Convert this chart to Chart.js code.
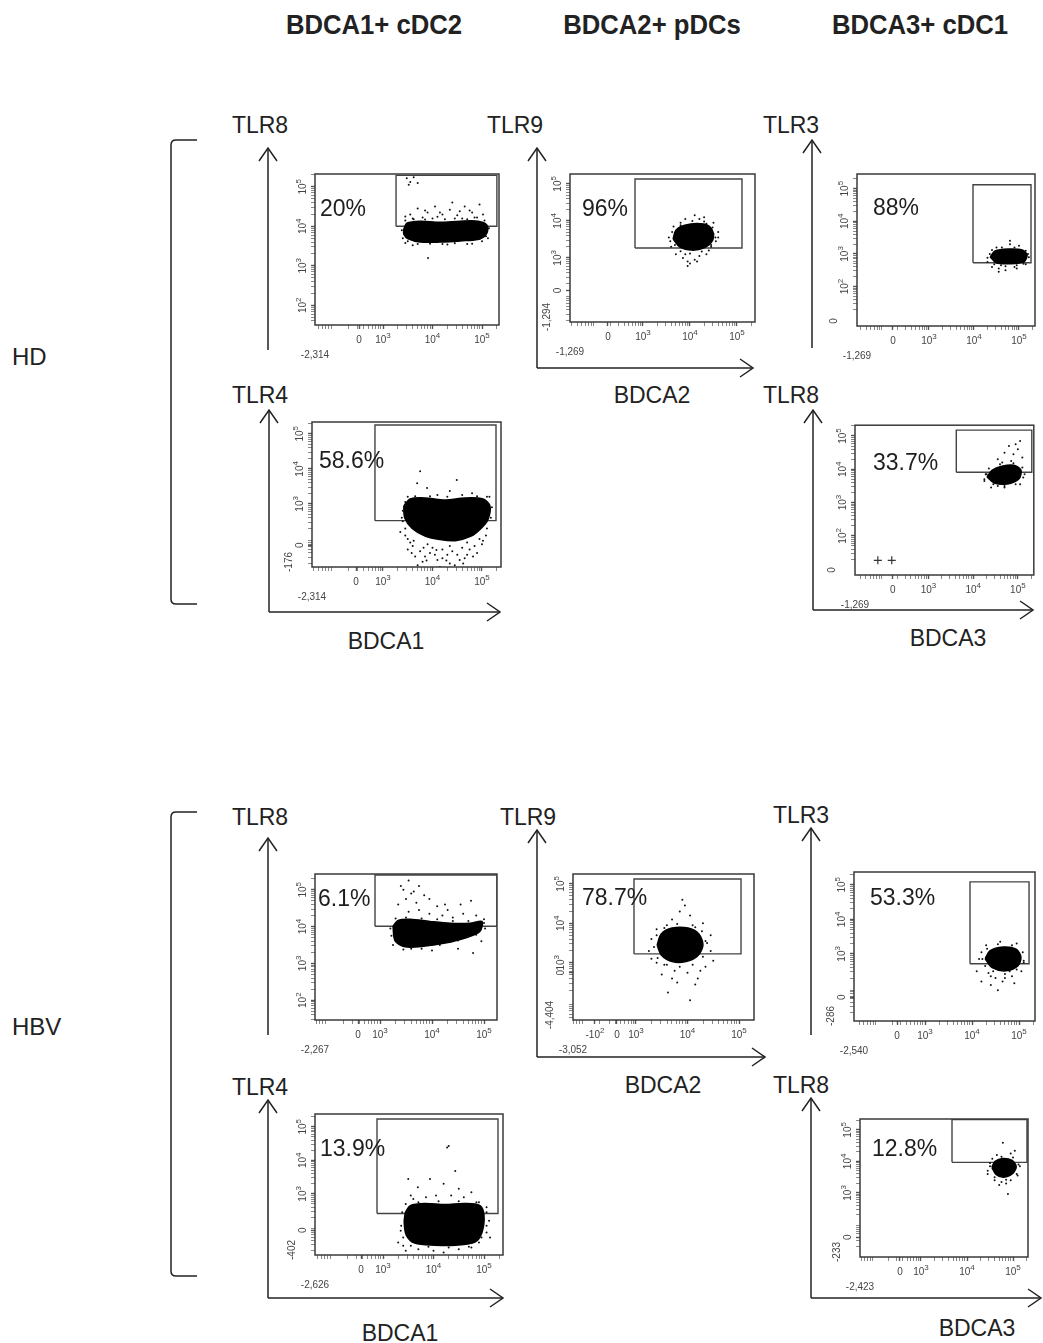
<!DOCTYPE html>
<html>
<head>
<meta charset="utf-8">
<script src="https://cdn.jsdelivr.net/npm/chart.js@4.4.1/dist/chart.umd.min.js"></script>
<style>
  body { margin:0; background:#fff; width:1043px; height:1343px; position:relative; overflow:hidden;
         font-family:"Liberation Sans", Arial, sans-serif; color:#222; }
  .t { position:absolute; white-space:nowrap; transform:translate(-50%,-50%); line-height:1; }
  .h { font-weight:bold; font-size:27px; transform:translate(-50%,-50%) scaleX(0.95); }
  .ax { font-size:23px; }
  .row { font-size:24px; transform:translate(0,-50%); }
  canvas { position:absolute; }
  svg { position:absolute; left:0; top:0; }
</style>
</head>
<body>
<svg id="deco" width="1043" height="1343"></svg>
<script>
const FONT = '"Liberation Sans", Arial, sans-serif';

// display units on every axis: 3 = 10^3, 4 = 10^4, 5 = 10^5 (lower part is the linear/negative zone)
const columnTitles = ['BDCA1+ cDC2', 'BDCA2+ pDCs', 'BDCA3+ cDC1'];
const groups = ['HD', 'HBV'];
// panels: HD A-E, HBV F-J
const yTitles = ['TLR8', 'TLR9', 'TLR3', 'TLR4', 'TLR8', 'TLR8', 'TLR9', 'TLR3', 'TLR4', 'TLR8'];
const xTitles = ['', 'BDCA2', '', 'BDCA1', 'BDCA3', '', 'BDCA2', '', 'BDCA1', 'BDCA3'];
const gatePercents = ['20%', '96%', '88%', '58.6%', '33.7%', '6.1%', '78.7%', '53.3%', '13.9%', '12.8%'];

const xRanges = [[1.626, 5.343], [1.447, 5.383], [1.40, 5.356], [1.566, 5.384], [1.356, 5.356],
                 [1.75, 5.25], [1.777, 5.291], [1.489, 5.34], [1.653, 5.376], [1.674, 5.326]];
const yRanges = [[1.5, 5.325], [1.267, 5.267], [0.79, 5.45], [1.197, 5.338], [0.824, 5.324],
                 [1.461, 5.429], [1.55, 5.25], [1.057, 5.371], [1.176, 5.382], [0.969, 5.344]];

const xTickLabels = [
  [[2.515, '0'], [3, '10^3'], [4, '10^4'], [5, '10^5']],
  [[2.255, '0'], [3, '10^3'], [4, '10^4'], [5, '10^5']],
  [[2.2, '0'], [3, '10^3'], [4, '10^4'], [5, '10^5']],
  [[2.455, '0'], [3, '10^3'], [4, '10^4'], [5, '10^5']],
  [[2.2, '0'], [3, '10^3'], [4, '10^4'], [5, '10^5']],
  [[2.577, '0'], [3, '10^3'], [4, '10^4'], [5, '10^5']],
  [[2.204, '-10^2'], [2.631, '0'], [3, '10^3'], [4, '10^4'], [5, '10^5']],
  [[2.404, '0'], [3, '10^3'], [4, '10^4'], [5, '10^5']],
  [[2.564, '0'], [3, '10^3'], [4, '10^4'], [5, '10^5']],
  [[2.543, '0'], [3, '10^3'], [4, '10^4'], [5, '10^5']]
];
const yTickLabels = [
  [[2, '10^2'], [3, '10^3'], [4, '10^4'], [5, '10^5']],
  [[2.12, '0'], [3, '10^3'], [4, '10^4'], [5, '10^5']],
  [[2, '10^2'], [3, '10^3'], [4, '10^4'], [5, '10^5']],
  [[1.817, '0'], [3, '10^3'], [4, '10^4'], [5, '10^5']],
  [[2, '10^2'], [3, '10^3'], [4, '10^4'], [5, '10^5']],
  [[2, '10^2'], [3, '10^3'], [4, '10^4'], [5, '10^5']],
  [[2.75, '0'], [3, '10^3'], [4, '10^4'], [5, '10^5']],
  [[1.743, '0'], [3, '10^3'], [4, '10^4'], [5, '10^5']],
  [[1.912, '0'], [3, '10^3'], [4, '10^4'], [5, '10^5']],
  [[1.594, '0'], [3, '10^3'], [4, '10^4'], [5, '10^5']]
];
const xMinLabels = ['-2,314', '-1,269', '-1,269', '-2,314', '-1,269', '-2,267', '-3,052', '-2,540', '-2,626', '-2,423'];
const yMinLabels = ['', '-1,294', '0', '-176', '0', '', '-4,404', '-286', '-402', '-233'];

// gates: [x0, x1, y0, y1]
const gates = [[3.263, 5.30, 4.0, 5.29], [2.83, 5.106, 3.267, 5.133], [3.978, 5.267, 2.727, 5.12],
               [2.838, 5.283, 2.521, 5.254], [3.622, 5.311, 3.912, 5.176], [2.904, 5.25, 4.008, 5.40],
               [2.961, 5.039, 3.225, 5.125], [3.957, 5.213, 2.714, 5.086], [2.881, 5.277, 2.412, 5.235],
               [3.674, 5.304, 3.969, 5.33]];

// dense cores of each population (outline)
const cloudA = [[3.42,3.93],[3.48,4.08],[3.75,4.13],[4.15,4.10],[4.56,4.13],[4.92,4.13],[5.10,4.03],[5.10,3.83],[4.96,3.68],[4.56,3.63],[4.15,3.60],[3.75,3.60],[3.51,3.68],[3.42,3.80]];
const cloudB = [[3.64,3.51],[3.70,3.75],[3.89,3.88],[4.15,3.93],[4.38,3.88],[4.49,3.69],[4.47,3.45],[4.30,3.27],[4.04,3.21],[3.79,3.29]];
const cloudC = [[4.36,2.91],[4.47,3.09],[4.76,3.15],[5.07,3.12],[5.18,2.97],[5.11,2.76],[4.80,2.70],[4.49,2.73]];
const cloudD = [[3.42,2.94],[3.55,3.14],[3.85,3.17],[4.25,3.11],[4.66,3.17],[5.02,3.14],[5.16,2.94],[5.12,2.55],[4.98,2.30],[4.78,2.08],[4.46,1.95],[4.15,1.98],[3.85,2.08],[3.59,2.30],[3.44,2.60]];
const cloudE = [[4.31,3.77],[4.42,3.97],[4.64,4.09],[4.91,4.12],[5.07,3.97],[5.02,3.71],[4.76,3.56],[4.47,3.59]];
const cloudF = [[3.25,4.01],[3.35,4.17],[3.58,4.20],[3.96,4.14],[4.35,4.09],[4.73,4.09],[4.96,4.14],[4.92,3.87],[4.64,3.69],[4.25,3.55],[3.87,3.47],[3.48,3.45],[3.29,3.61]];
const cloudG = [[3.41,3.45],[3.49,3.73],[3.70,3.88],[4.01,3.88],[4.22,3.73],[4.30,3.45],[4.20,3.18],[3.97,3.03],[3.70,3.03],[3.49,3.20]];
const cloudH = [[4.28,2.86],[4.38,3.09],[4.66,3.20],[4.94,3.14],[5.04,2.91],[4.98,2.66],[4.72,2.51],[4.43,2.60]];
const cloudI = [[3.44,2.44],[3.54,2.65],[3.83,2.71],[4.23,2.68],[4.62,2.71],[4.92,2.65],[5.00,2.35],[4.96,1.85],[4.82,1.56],[4.43,1.47],[4.03,1.47],[3.63,1.53],[3.46,1.77],[3.42,2.15]];
const cloudJ = [[4.54,3.81],[4.61,4.00],[4.78,4.09],[4.98,4.03],[5.07,3.84],[5.00,3.63],[4.80,3.50],[4.63,3.59]];

// sparse events around the cores
const outA = [[3.48,5.22],[3.55,5.12],[3.62,5.24],[3.70,5.10],[3.52,5.05],[3.55,4.30],[3.70,4.45],[3.90,4.35],[4.05,4.50],[4.20,4.30],[4.35,4.42],[4.50,4.28],[4.65,4.50],[4.80,4.35],[4.95,4.55],[5.02,4.30],[3.80,4.22],[4.10,4.24],[4.60,4.20],[4.85,4.22],[3.62,4.18],[4.40,4.60],[3.91,3.20],[3.60,3.52],[4.30,3.54],[4.80,3.56],[3.45,3.58],[5.08,3.75],
  [3.40,3.70],[3.38,3.90],[3.45,4.15],[3.60,4.20],[3.85,4.17],[4.00,4.20],[4.25,4.18],[4.45,4.20],[4.70,4.18],[4.90,4.22],[5.05,4.15],[5.14,3.95],[5.12,3.70],[5.00,3.62],[4.70,3.55],[4.45,3.57],[4.20,3.55],[3.95,3.56],[3.70,3.55],[3.50,3.62],[4.15,4.35],[3.85,4.40],[4.75,4.40],[4.55,4.38],[3.45,4.25]];
const outB = [[3.60,3.30],[3.70,3.10],[3.85,3.00],[4.00,2.85],[4.20,3.05],[4.40,3.20],[4.55,3.45],[4.60,3.70],[4.50,3.95],[4.30,4.10],[4.10,4.15],[3.90,4.05],[3.65,3.85],[3.55,3.55],[3.95,2.78],[4.10,2.95],[3.75,3.35],[4.45,3.35],[4.35,3.92],[3.80,3.95],
  [3.58,3.45],[3.62,3.70],[3.80,3.88],[4.05,4.00],[4.30,3.98],[4.48,3.82],[4.54,3.55],[4.45,3.30],[4.25,3.17],[4.00,3.12],[3.80,3.18],[3.68,3.35],[4.15,2.90],[3.90,3.10],[4.60,3.55],[4.20,4.05],[3.72,3.62],[3.95,2.90],[4.35,3.10],[4.50,3.65]];
const outC = [[4.30,2.75],[4.40,2.60],[4.55,2.55],[4.70,2.50],[4.90,2.60],[5.10,2.70],[5.20,3.00],[5.00,3.25],[4.80,3.30],[4.50,3.20],[4.35,3.00],[4.60,2.65],[4.95,2.55],
  [4.30,2.88],[4.40,3.12],[4.62,3.20],[4.90,3.20],[5.15,3.10],[5.22,2.90],[5.15,2.68],[4.95,2.65],[4.70,2.62],[4.45,2.68],[4.80,3.40],[4.55,2.45]];
const outD = [[3.50,1.70],[3.65,1.50],[3.80,1.35],[3.95,1.60],[4.10,1.40],[4.20,1.70],[4.35,1.30],[4.50,1.55],[4.65,1.45],[4.75,1.70],[4.90,1.60],[5.00,1.85],[5.08,2.10],[3.45,2.10],[3.40,2.50],[3.55,1.90],[4.00,1.75],[4.30,1.55],[4.60,1.75],[4.45,1.25],[3.70,1.25],[4.15,1.20],[3.90,1.85],[3.75,3.93],[4.49,3.68],[3.89,3.45],[3.69,3.59],[4.35,3.37],[4.80,3.30],[5.10,3.20],[3.50,3.20],[4.10,3.25],
  [3.40,2.80],[3.38,2.60],[3.45,2.30],[3.50,2.00],[3.60,1.80],[3.75,1.65],[3.85,1.50],[4.05,1.55],[4.20,1.45],[4.40,1.65],[4.55,1.40],[4.70,1.55],[4.85,1.80],[4.95,2.00],[5.10,2.30],[5.18,2.60],[5.20,2.90],[5.15,3.20],[4.90,3.22],[4.60,3.25],[4.30,3.20],[3.95,3.22],[3.65,3.22],[3.45,3.05],[3.58,1.60],[3.88,1.38],[4.28,1.38],[4.62,1.30],[4.82,1.50],[5.02,1.95],[3.35,2.20],[3.62,1.95],[3.82,1.75],[4.08,1.68],[4.35,1.80],[4.70,1.90]];
const outE = [[4.55,4.30],[4.70,4.50],[4.80,4.70],[4.90,4.45],[5.00,4.60],[4.85,4.25],[5.10,4.35],[4.65,4.20],[4.95,4.75],[4.30,3.85],[4.25,3.70],[4.40,3.45],[4.70,3.45],[5.05,3.55],[5.15,3.85],[4.55,3.50],
  [4.28,3.85],[4.35,4.02],[4.60,4.15],[4.90,4.18],[5.10,4.05],[5.12,3.75],[4.95,3.55],[4.70,3.50],[4.45,3.55],[4.25,3.65],[4.80,4.00],[5.05,4.85]];
const outF = [[3.40,5.10],[3.55,5.25],[3.65,4.95],[3.75,5.10],[3.85,4.85],[3.50,4.75],[3.35,4.60],[3.70,4.65],[3.95,4.75],[4.10,4.55],[4.30,4.45],[4.55,4.60],[4.75,4.70],[4.60,4.35],[4.85,4.30],[4.20,4.30],[3.95,4.35],[3.55,4.40],[4.40,4.25],[5.00,4.20],[4.95,3.60],[4.79,3.28],[4.50,3.40],[4.00,3.35],[3.60,3.40],
  [3.20,3.95],[3.22,3.75],[3.30,4.22],[3.50,4.25],[3.80,4.22],[4.10,4.20],[4.40,4.15],[4.70,4.15],[5.00,4.10],[5.02,3.95],[4.85,3.78],[4.50,3.62],[4.15,3.50],[3.80,3.40],[3.45,3.38],[3.25,3.50],[3.75,4.45],[4.25,4.60],[3.60,4.90],[3.45,5.00]];
const outG = [[3.40,3.00],[3.50,2.70],[3.62,2.25],[3.80,2.50],[4.05,2.05],[4.20,2.60],[4.35,2.90],[4.45,3.30],[4.45,3.70],[4.30,4.00],[4.05,4.20],[3.95,4.45],[3.90,4.60],[3.70,4.10],[3.30,3.60],[3.25,3.30],[3.75,2.80],[4.00,2.75],[4.15,2.45],[3.55,2.95],[4.35,3.55],[3.40,3.85],[3.85,4.30],
  [3.35,3.40],[3.40,3.70],[3.55,3.88],[3.80,3.98],[4.10,3.95],[4.28,3.80],[4.38,3.50],[4.30,3.15],[4.10,2.95],[3.85,2.90],[3.60,2.95],[3.42,3.12],[3.70,2.60],[4.25,2.80],[3.30,3.10],[4.50,3.05],[3.60,3.95],[4.15,3.90]];
const outH = [[4.10,2.50],[4.20,2.20],[4.40,2.10],[4.55,1.95],[4.70,2.30],[4.90,2.15],[5.05,2.50],[5.10,2.80],[4.95,3.30],[4.30,3.25],[4.20,3.05],[4.60,3.35],[4.35,2.45],[4.80,2.50],[4.50,2.30],[5.00,3.00],[4.15,2.85],
  [4.22,2.85],[4.32,3.15],[4.55,3.28],[4.85,3.25],[5.08,3.05],[5.10,2.75],[4.95,2.55],[4.70,2.42],[4.45,2.50],[4.28,2.65],[4.65,2.20],[4.40,2.35],[4.85,2.35]];
const outI = [[4.27,4.38],[4.30,4.43],[4.43,3.68],[3.50,3.44],[3.93,3.44],[3.69,3.20],[4.20,3.30],[4.50,3.15],[4.75,3.05],[4.35,2.95],[3.85,2.90],[3.55,2.95],[4.90,2.75],[5.05,2.60],[5.10,2.20],[5.05,1.85],[4.90,1.55],[3.40,1.45],[3.35,1.90],[3.45,1.30],[3.70,1.35],[4.00,1.30],[4.50,1.35],[4.75,1.40],[4.20,1.25],
  [3.38,2.45],[3.45,2.70],[3.70,2.75],[4.10,2.78],[4.50,2.78],[4.85,2.75],[5.05,2.45],[5.05,2.05],[4.95,1.70],[4.70,1.42],[4.30,1.40],[3.90,1.42],[3.55,1.45],[3.40,1.70],[3.36,2.05],[4.60,2.90],[4.05,2.95],[3.60,2.85],[5.12,1.70],[3.30,1.55]];
const outJ = [[4.78,4.59],[5.04,4.34],[4.89,2.97],[4.45,3.70],[4.50,3.95],[4.60,3.40],[4.75,3.35],[5.10,3.55],[5.15,3.85],[4.95,4.25],[4.65,4.20],[4.85,3.30],
  [4.50,3.85],[4.55,4.08],[4.75,4.15],[5.00,4.12],[5.12,3.90],[5.08,3.60],[4.85,3.42],[4.60,3.50],[4.70,3.25],[4.95,3.40],[4.45,3.60]];
const crossE = [[1.867, 1.265], [2.178, 1.265]];

const clouds = [cloudA, cloudB, cloudC, cloudD, cloudE, cloudF, cloudG, cloudH, cloudI, cloudJ];
const outliers = [outA, outB, outC, outD, outE, outF, outG, outH, outI, outJ];

// ---- layout (pixels)
const boxes = [[315,172,499,325], [570,172,755,322], [857,172,1035,326], [312,420,501,567], [855,422,1035,575],
               [315,872,497,1020], [573,872,754,1020], [854,870,1035,1021], [315,1112,503,1255], [860,1117,1028,1257]];
const pctOffsets = [[5,36], [12,36], [16,35], [7,40], [18,38], [3,26], [9,25], [16,27], [5,36], [12,31]];
const yTitlePos = [[260,125], [515,125], [791,125], [260,395], [791,395], [260,817], [528,817], [801,815], [260,1087], [801,1085]];
const xTitlePos = [null, [652,395], null, [386,641], [948,638], null, [663,1085], null, [400,1333], [977,1328]];
const arrows = [[268,350,268,148], [537,368,537,148], [537,368,753,368], [812,348,812,140],
                [269,612,269,410], [269,612,500,612], [813,610,813,410], [813,610,1033,610],
                [268,1035,268,838], [537,1057,537,830], [537,1057,765,1057], [811,1035,811,828],
                [268,1298,268,1100], [268,1298,503,1298], [811,1298,811,1098], [811,1298,1041,1298]];
const brackets = [[140, 604], [812, 1276]];

const YW = 40, XH = 40, PT = 2, PR = 4;

function addText(txt, x, y, cls) {
  const d = document.createElement('div');
  d.className = 't ' + cls;
  d.textContent = txt;
  d.style.left = x + 'px';
  d.style.top = y + 'px';
  document.body.appendChild(d);
}

// headers / labels
[374, 652, 920].forEach((x, i) => addText(columnTitles[i], x, 25, 'h'));
addText(groups[0], 12, 357, 'row');
addText(groups[1], 12, 1027, 'row');
yTitles.forEach((s, i) => addText(s, yTitlePos[i][0], yTitlePos[i][1], 'ax'));
xTitles.forEach((s, i) => { if (s) addText(s, xTitlePos[i][0], xTitlePos[i][1], 'ax'); });

// arrows and brackets
const svg = document.getElementById('deco');
let paths = '';
arrows.forEach(([x1, y1, x2, y2]) => {
  paths += `<line x1="${x1}" y1="${y1}" x2="${x2}" y2="${y2}"/>`;
  if (x1 === x2) paths += `<polyline points="${x2-9},${y2+13} ${x2},${y2} ${x2+9},${y2+13}"/>`;
  else paths += `<polyline points="${x2-13},${y2-9} ${x2},${y2} ${x2-13},${y2+9}"/>`;
});
brackets.forEach(([t, b]) => {
  paths += `<path d="M197,${t} L176,${t} Q171,${t} 171,${t+5} L171,${b-5} Q171,${b} 176,${b} L197,${b}"/>`;
});
svg.innerHTML = `<g stroke="#222" stroke-width="1.5" fill="none">${paths}</g>`;

function drawTickText(ctx, s, x, y) {
  const parts = s.split('^');
  ctx.textBaseline = 'middle';
  if (parts.length === 1) {
    ctx.font = '10px ' + FONT; ctx.textAlign = 'center';
    ctx.fillText(s, x, y);
    return;
  }
  ctx.font = '10px ' + FONT; const wb = ctx.measureText(parts[0]).width;
  ctx.font = '8px ' + FONT; const we = ctx.measureText(parts[1]).width;
  const x0 = x - (wb + we) / 2;
  ctx.textAlign = 'left';
  ctx.font = '10px ' + FONT; ctx.fillText(parts[0], x0, y);
  ctx.font = '8px ' + FONT; ctx.fillText(parts[1], x0 + wb, y - 4);
}

const framePlugin = {
  id: 'frame',
  afterDraw(chart, args, o) {
    const i = o.idx;
    const { ctx, chartArea: a } = chart;
    const xs = chart.scales.x, ys = chart.scales.y;
    ctx.save();
    ctx.strokeStyle = '#3a3a3a'; ctx.lineWidth = 1.5;
    ctx.strokeRect(a.left, a.top, a.right - a.left, a.bottom - a.top);
    ctx.fillStyle = '#444';
    xTickLabels[i].forEach(([v, s]) => drawTickText(ctx, s, xs.getPixelForValue(v), a.bottom + 15));
    drawTickText(ctx, xMinLabels[i], xs.getPixelForValue(xs.min), a.bottom + 30);
    yTickLabels[i].forEach(([v, s]) => {
      ctx.save(); ctx.translate(a.left - 12, ys.getPixelForValue(v)); ctx.rotate(-Math.PI / 2);
      drawTickText(ctx, s, 0, 0); ctx.restore();
    });
    if (yMinLabels[i]) {
      ctx.save(); ctx.translate(a.left - 23, a.bottom - 5); ctx.rotate(-Math.PI / 2);
      drawTickText(ctx, yMinLabels[i], 0, 0); ctx.restore();
    }
    ctx.fillStyle = '#1e1e1e';
    ctx.font = '23px ' + FONT; ctx.textAlign = 'left'; ctx.textBaseline = 'middle';
    ctx.fillText(gatePercents[i], a.left + pctOffsets[i][0], a.top + pctOffsets[i][1]);
    ctx.restore();
  }
};

function tickList(min, max, labels) {
  const t = [];
  for (let d = 1; d <= 5; d++) for (let k = 2; k <= 9; k++) {
    const v = d + Math.log10(k);
    if (v > min && v < max) t.push({ value: v, major: false });
  }
  labels.forEach(([v]) => t.push({ value: v, major: true }));
  return t.sort((p, q) => p.value - q.value);
}

const toXY = pts => pts.map(([x, y]) => ({ x, y }));

boxes.forEach(([l, t, r, b], i) => {
  const W = r - l + YW + PR, H = b - t + XH + PT;
  const cv = document.createElement('canvas');
  cv.width = W; cv.height = H;
  cv.style.left = (l - YW) + 'px'; cv.style.top = (t - PT) + 'px';
  cv.style.width = W + 'px'; cv.style.height = H + 'px';
  document.body.appendChild(cv);

  const [gx0, gx1, gy0, gy1] = gates[i];
  const datasets = [
    { type: 'line', data: toXY(clouds[i].concat([clouds[i][0]])), borderColor: '#000', backgroundColor: '#000',
      borderWidth: 1.5, fill: 'shape', tension: 0.3, pointRadius: 0 },
    { type: 'scatter', data: toXY(outliers[i]), pointRadius: 1, backgroundColor: '#111', borderWidth: 0 },
    { type: 'line', data: toXY([[gx0, gy0], [gx1, gy0], [gx1, gy1], [gx0, gy1], [gx0, gy0]]),
      borderColor: '#444', borderWidth: 1.4, fill: false, tension: 0, pointRadius: 0 }
  ];
  if (i === 4) datasets.push({ type: 'scatter', data: toXY(crossE), pointStyle: 'cross', pointRadius: 4,
                                borderColor: '#333', borderWidth: 1.2 });

  const axis = (range, labels, vertical) => ({
    type: 'linear', min: range[0], max: range[1], bounds: 'data',
    afterBuildTicks: s => { s.ticks = tickList(range[0], range[1], labels); },
    ticks: { display: false },
    grid: { drawOnChartArea: false, drawTicks: true, tickLength: 4, tickColor: '#555',
            tickWidth: c => (c.tick && c.tick.major ? 1.4 : 0.7) },
    border: { display: false },
    afterFit: s => { if (vertical) s.width = YW; else s.height = XH; }
  });

  new Chart(cv, {
    type: 'scatter',
    data: { datasets },
    options: {
      responsive: false, animation: false, devicePixelRatio: 1,
      layout: { padding: { top: PT, right: PR, left: 0, bottom: 0 } },
      plugins: { legend: { display: false }, tooltip: { enabled: false }, frame: { idx: i } },
      scales: { x: axis(xRanges[i], xTickLabels[i], false), y: axis(yRanges[i], yTickLabels[i], true) }
    },
    plugins: [framePlugin]
  });
});
</script>
</body>
</html>
